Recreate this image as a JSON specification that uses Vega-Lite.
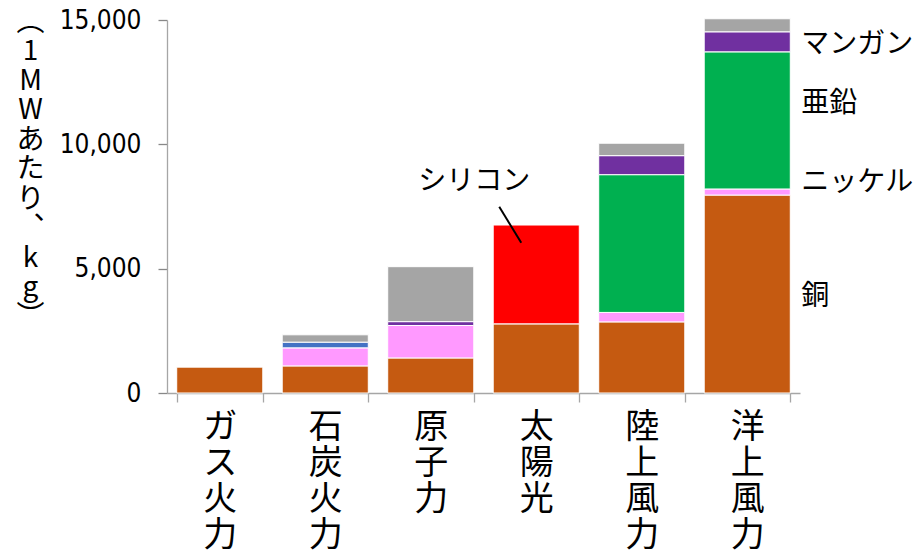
{
  "$schema": "https://vega.github.io/schema/vega-lite/v6.json",
  "autosize": {"type": "none"},
  "padding": {"left": 167, "top": 20, "right": 119, "bottom": 165},
  "width": 633,
  "height": 373,
  "background": "white",
  "config": {
    "view": {"stroke": null},
    "axisY": {
      "grid": false,
      "labelFont": "DejaVu Sans Condensed, DejaVu Sans",
      "labelFontSize": 26,
      "labelColor": "#000000",
      "labelPadding": 17,
      "domainColor": "#A6A6A6",
      "domainWidth": 1.3,
      "titleAngle": 0,
      "titleAlign": "center",
      "titleBaseline": "top",
      "titleX": -137,
      "titleY": -12,
      "titleFont": "Noto Sans CJK JP",
      "titleFontSize": 28,
      "titleFontWeight": "normal",
      "titleLineHeight": 29.5,
      "titleColor": "#000000"
    }
  },
  "datasets": {
    "bars": [
      {"cat": "ガス火力", "metal": "銅", "kg": 1040},
      {"cat": "石炭火力", "metal": "銅", "kg": 1090},
      {"cat": "石炭火力", "metal": "ニッケル", "kg": 725},
      {"cat": "石炭火力", "metal": "モリブデン", "kg": 230},
      {"cat": "石炭火力", "metal": "その他", "kg": 295},
      {"cat": "原子力", "metal": "銅", "kg": 1410},
      {"cat": "原子力", "metal": "ニッケル", "kg": 1305},
      {"cat": "原子力", "metal": "マンガン", "kg": 155},
      {"cat": "原子力", "metal": "その他", "kg": 2210},
      {"cat": "太陽光", "metal": "銅", "kg": 2780},
      {"cat": "太陽光", "metal": "シリコン", "kg": 3975},
      {"cat": "陸上風力", "metal": "銅", "kg": 2860},
      {"cat": "陸上風力", "metal": "ニッケル", "kg": 380},
      {"cat": "陸上風力", "metal": "亜鉛", "kg": 5540},
      {"cat": "陸上風力", "metal": "マンガン", "kg": 765},
      {"cat": "陸上風力", "metal": "その他", "kg": 500},
      {"cat": "洋上風力", "metal": "銅", "kg": 7960},
      {"cat": "洋上風力", "metal": "ニッケル", "kg": 245},
      {"cat": "洋上風力", "metal": "亜鉛", "kg": 5515},
      {"cat": "洋上風力", "metal": "マンガン", "kg": 805},
      {"cat": "洋上風力", "metal": "その他", "kg": 525}
    ],
    "rightLabels": [
      {"cat": "洋上風力", "label": "マンガン", "kg": 14000},
      {"cat": "洋上風力", "label": "亜鉛", "kg": 11630},
      {"cat": "洋上風力", "label": "ニッケル", "kg": 8450},
      {"cat": "洋上風力", "label": "銅", "kg": 3860}
    ],
    "silLabel": [
      {"cat": "太陽光", "label": "シリコン", "kg": 8470}
    ],
    "silLine": [
      {"cat": "太陽光", "kg": 7490, "kg2": 6040}
    ]
  },
  "layer": [
    {
      "data": {"name": "bars"},
      "transform": [
        {"calculate": "indexof(['銅','ニッケル','亜鉛','マンガン','シリコン','モリブデン','その他'], datum.metal)", "as": "ord"}
      ],
      "mark": {"type": "bar", "stroke": "white", "strokeWidth": 1},
      "encoding": {
        "x": {
          "field": "cat", "type": "nominal",
          "scale": {"domain": ["ガス火力", "石炭火力", "原子力", "太陽光", "陸上風力", "洋上風力"], "paddingInner": 0.184, "paddingOuter": 0.092},
          "axis": {
            "title": null,
            "labelAngle": 0,
            "labelAlign": "center",
            "labelBaseline": "top",
            "labelExpr": "split(datum.label, '')",
            "labelFont": "Noto Sans CJK JP",
            "labelFontSize": 34,
            "labelLineHeight": 36,
            "labelColor": "#000000",
            "labelPadding": 8,
            "domainColor": "#A6A6A6",
            "domainWidth": 1.3,
            "tickColor": "#A6A6A6",
            "tickWidth": 1.3,
            "tickSize": 9,
            "tickBand": "extent"
          }
        },
        "y": {
          "field": "kg", "type": "quantitative", "stack": "zero",
          "scale": {"domain": [0, 15000], "nice": false},
          "title": ["︵", "1", "M", "W", "あ", "た", "り", "︑", "k", "g", "︶"],
          "axis": {"values": [0, 5000, 10000, 15000], "labelExpr": "format(datum.value, ',')", "ticks": true, "tickSize": 9, "tickColor": "#888888", "tickWidth": 1.3, "tickOpacity": 1}
        },
        "color": {
          "field": "metal", "type": "nominal", "legend": null,
          "scale": {
            "domain": ["銅", "ニッケル", "亜鉛", "マンガン", "シリコン", "モリブデン", "その他"],
            "range": ["#C55A11", "#FF99FF", "#00B050", "#7030A0", "#FF0000", "#4472C4", "#A5A5A5"]
          }
        },
        "order": {"field": "ord", "type": "quantitative", "sort": "ascending"}
      }
    },
    {
      "data": {"name": "rightLabels"},
      "mark": {"type": "text", "align": "left", "baseline": "middle", "dx": 54, "font": "Noto Sans CJK JP", "fontSize": 28, "color": "#000000"},
      "encoding": {
        "x": {"field": "cat", "type": "nominal"},
        "y": {"field": "kg", "type": "quantitative", "title": ["︵", "1", "M", "W", "あ", "た", "り", "︑", "k", "g", "︶"], "axis": {"values": [0, 5000, 10000, 15000], "labelExpr": "format(datum.value, ',')", "ticks": true, "tickSize": 9, "tickColor": "#888888", "tickWidth": 1.3, "tickOpacity": 1}},
        "text": {"field": "label"}
      }
    },
    {
      "data": {"name": "silLabel"},
      "mark": {"type": "text", "align": "center", "baseline": "middle", "dx": -62, "font": "Noto Sans CJK JP", "fontSize": 28, "color": "#000000"},
      "encoding": {
        "x": {"field": "cat", "type": "nominal"},
        "y": {"field": "kg", "type": "quantitative", "title": ["︵", "1", "M", "W", "あ", "た", "り", "︑", "k", "g", "︶"], "axis": {"values": [0, 5000, 10000, 15000], "labelExpr": "format(datum.value, ',')", "ticks": true, "tickSize": 9, "tickColor": "#888888", "tickWidth": 1.3, "tickOpacity": 1}},
        "text": {"field": "label"}
      }
    },
    {
      "data": {"name": "silLine"},
      "mark": {"type": "rule", "color": "#000000", "strokeWidth": 2, "xOffset": -37, "x2Offset": -15},
      "encoding": {
        "x": {"field": "cat", "type": "nominal", "bandPosition": 0.5},
        "x2": {"field": "cat", "bandPosition": 0.5},
        "y": {"field": "kg", "type": "quantitative", "title": ["︵", "1", "M", "W", "あ", "た", "り", "︑", "k", "g", "︶"], "axis": {"values": [0, 5000, 10000, 15000], "labelExpr": "format(datum.value, ',')", "ticks": true, "tickSize": 9, "tickColor": "#888888", "tickWidth": 1.3, "tickOpacity": 1}},
        "y2": {"field": "kg2"}
      }
    }
  ]
}
